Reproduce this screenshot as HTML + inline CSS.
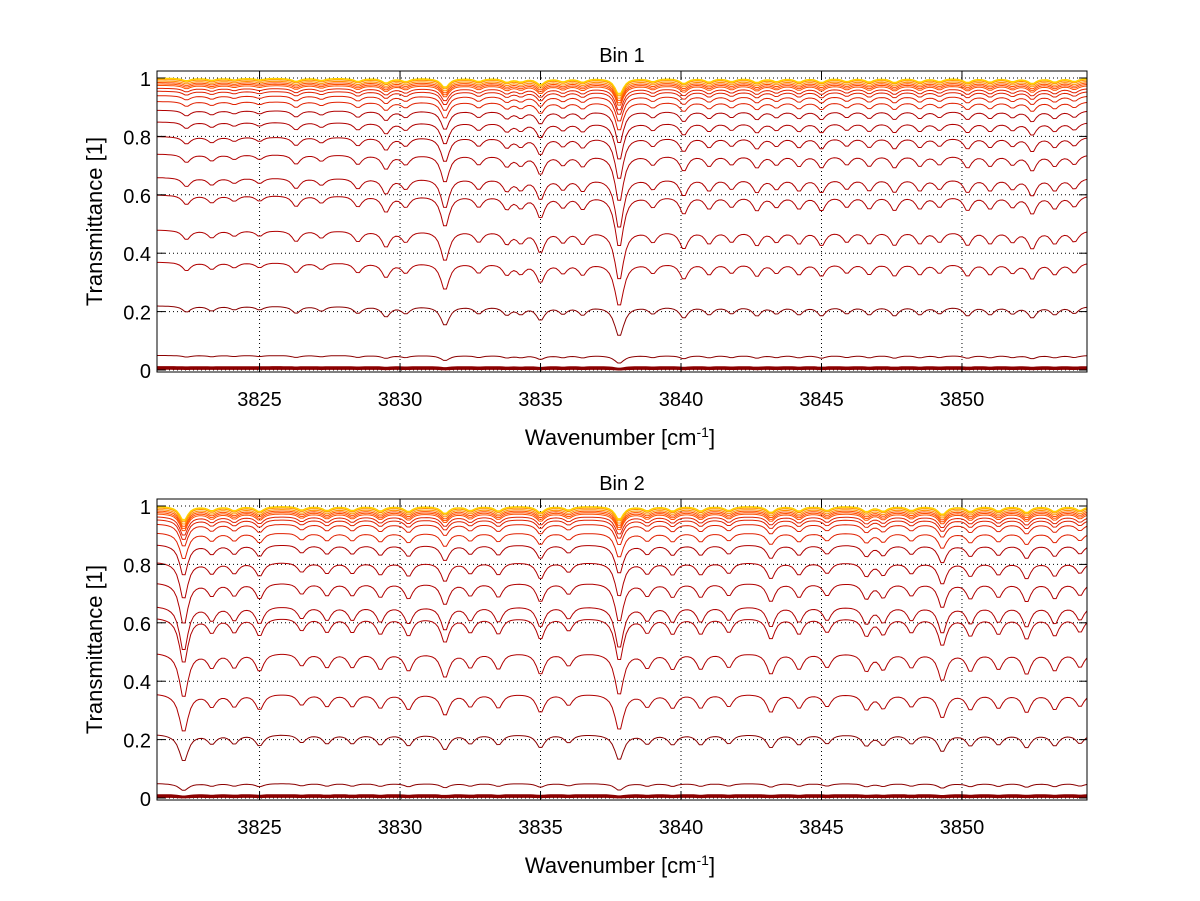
<!DOCTYPE html>
<html><head><meta charset="utf-8"><style>
body{margin:0;background:#fff;}
svg{display:block;font-family:"Liberation Sans",sans-serif;}
</style></head><body>
<svg id="fig" width="1200" height="901" viewBox="0 0 1200 901"></svg>
<script>
// ---- data ----
const xTicks = [3825, 3830, 3835, 3840, 3845, 3850];
const yTicks = [0, 0.2, 0.4, 0.6, 0.8, 1];
const yTickLabels = ["0", "0.2", "0.4", "0.6", "0.8", "1"];
// absorption line centers & strengths, bin 1
const bin1Centers = [3822.4,3823.3,3824.1,3825.0,3826.3,3827.2,3828.5,3829.5,3830.2,3831.6,3832.8,3833.8,3834.3,3835.0,3835.8,3836.5,3837.8,3839.0,3840.1,3841.0,3841.8,3842.7,3843.4,3844.2,3845.0,3845.9,3846.7,3847.6,3848.5,3849.2,3850.2,3851.0,3851.8,3852.5,3853.3,3854.0];
const bin1Strength = [0.25,0.2,0.15,0.15,0.3,0.2,0.3,0.45,0.3,0.9,0.3,0.35,0.3,0.6,0.3,0.35,1.6,0.3,0.5,0.35,0.3,0.4,0.3,0.35,0.4,0.3,0.35,0.4,0.35,0.3,0.4,0.35,0.3,0.5,0.35,0.3];
const bin2Centers = [3822.3,3823.3,3824.1,3825.0,3826.5,3827.4,3828.3,3829.3,3830.3,3831.6,3832.5,3833.5,3835.0,3836.0,3837.8,3838.8,3839.7,3840.7,3841.7,3843.2,3844.2,3845.2,3846.6,3847.2,3848.2,3849.3,3850.3,3851.3,3852.3,3853.3,3854.2];
const bin2Strength = [1.4,0.4,0.4,0.5,0.35,0.4,0.4,0.45,0.5,0.7,0.4,0.45,0.6,0.35,1.3,0.4,0.45,0.45,0.4,0.6,0.45,0.4,0.5,0.45,0.4,0.8,0.5,0.45,0.6,0.5,0.4];
// curve levels (transmittance baseline)
const bin1Levels = [1.0,0.998,0.995,0.99,0.985,0.98,0.975,0.965,0.955,0.94,0.92,0.89,0.85,0.80,0.74,0.66,0.60,0.48,0.37,0.22,0.05,0.01,0.004];
const bin2Levels = [1.0,0.998,0.995,0.99,0.985,0.98,0.975,0.965,0.955,0.94,0.91,0.87,0.81,0.74,0.66,0.62,0.50,0.36,0.22,0.05,0.01,0.004];

const svg = document.getElementById('fig');
const NS = 'http://www.w3.org/2000/svg';
function mk(tag, attrs, parent){const e=document.createElementNS(NS,tag);for(const k in attrs)e.setAttribute(k,attrs[k]);(parent||svg).appendChild(e);return e;}

const X0=3821.35, X1=3854.45, L=157, R=1087;
function colorFor(lv){
  if(lv<0.3) return '#8b0000';
  if(lv<0.9) return '#b00000';
  if(lv<0.97) return '#e02000';
  if(lv<0.99) return '#ff5000';
  if(lv<0.997) return '#ff9000';
  return '#ffd000';
}
function drawPanel(top, bottom, title, centers, strength, levels, id){
  const y0=bottom-2, y1=top+7; // value 0 and 1
  const sx=v=>L+(v-X0)/(X1-X0)*(R-L);
  const sy=v=>y0-(v)*(y0-y1);
  const g=mk('g',{});  
  mk('rect',{x:L,y:top,width:R-L,height:bottom-top,fill:'#fff'},g);
  xTicks.forEach(t=>{const l=mk('line',{x1:sx(t),x2:sx(t),y1:top,y2:bottom,stroke:'#000','stroke-width':1,'stroke-dasharray':'1,3'},g);});
  yTicks.forEach(t=>{const l=mk('line',{x1:L,x2:R,y1:sy(t),y2:sy(t),stroke:'#000','stroke-width':1,'stroke-dasharray':'1,3'},g);});
  const cg=mk('g',{},g);  
  for(let i=levels.length-1;i>=0;i--){
    const lv=levels[i]; const a=(1.05-lv)*0.8+0.02;
    let d='';
    for(let x=X0;x<=X1+0.001;x+=0.1){
      let tau=0;
      for(let j=0;j<centers.length;j++){const u=(x-centers[j])/0.17;tau+=strength[j]/(1+u*u);}
      let v=lv*Math.exp(-a*tau*0.6);
      if(v>1)v=1;
      d+=(d?'L':'M')+sx(x).toFixed(1)+','+sy(v).toFixed(1);
    }
    const p=mk('path',{d:d,fill:'none',stroke:colorFor(lv),'stroke-width':lv<0.02?2:1},cg);
    
    
  }
  mk('rect',{x:L,y:top,width:R-L,height:bottom-top,fill:'none',stroke:'#000','stroke-width':1},g);
  xTicks.forEach(t=>{
    mk('line',{x1:sx(t),x2:sx(t),y1:bottom,y2:bottom-8,stroke:'#000'},g);
    mk('line',{x1:sx(t),x2:sx(t),y1:top,y2:top+8,stroke:'#000'},g);
    const tx=mk('text',{x:sx(t),y:bottom+34,'text-anchor':'middle','font-size':20},g);tx.textContent=t;
    
  });
  yTicks.forEach((t,i)=>{
    mk('line',{x1:L,x2:L+8,y1:sy(t),y2:sy(t),stroke:'#000'},g);
    mk('line',{x1:R,x2:R-8,y1:sy(t),y2:sy(t),stroke:'#000'},g);
    const tx=mk('text',{x:L-6,y:sy(t)+8,'text-anchor':'end','font-size':20},g);tx.textContent=yTickLabels[i];
    
  });
  const tt=mk('text',{x:(L+R)/2,y:top-9,'text-anchor':'middle','font-size':20},g);tt.textContent=title;
  
  const xl=mk('text',{x:(L+R)/2-2,y:bottom+73,'text-anchor':'middle','font-size':22},g);
  xl.innerHTML='Wavenumber [cm<tspan dy="-8" font-size="14">-1</tspan><tspan dy="8">]</tspan>';
  
  const yl=mk('text',{x:0,y:0,'text-anchor':'middle','font-size':22,transform:`translate(102,${(top+bottom)/2}) rotate(-90)`},g);
  yl.textContent='Transmittance [1]';
  
}
drawPanel(71,372,'Bin 1',bin1Centers,bin1Strength,bin1Levels,'bin1');
drawPanel(499,800,'Bin 2',bin2Centers,bin2Strength,bin2Levels,'bin2');
</script>
</body></html>
